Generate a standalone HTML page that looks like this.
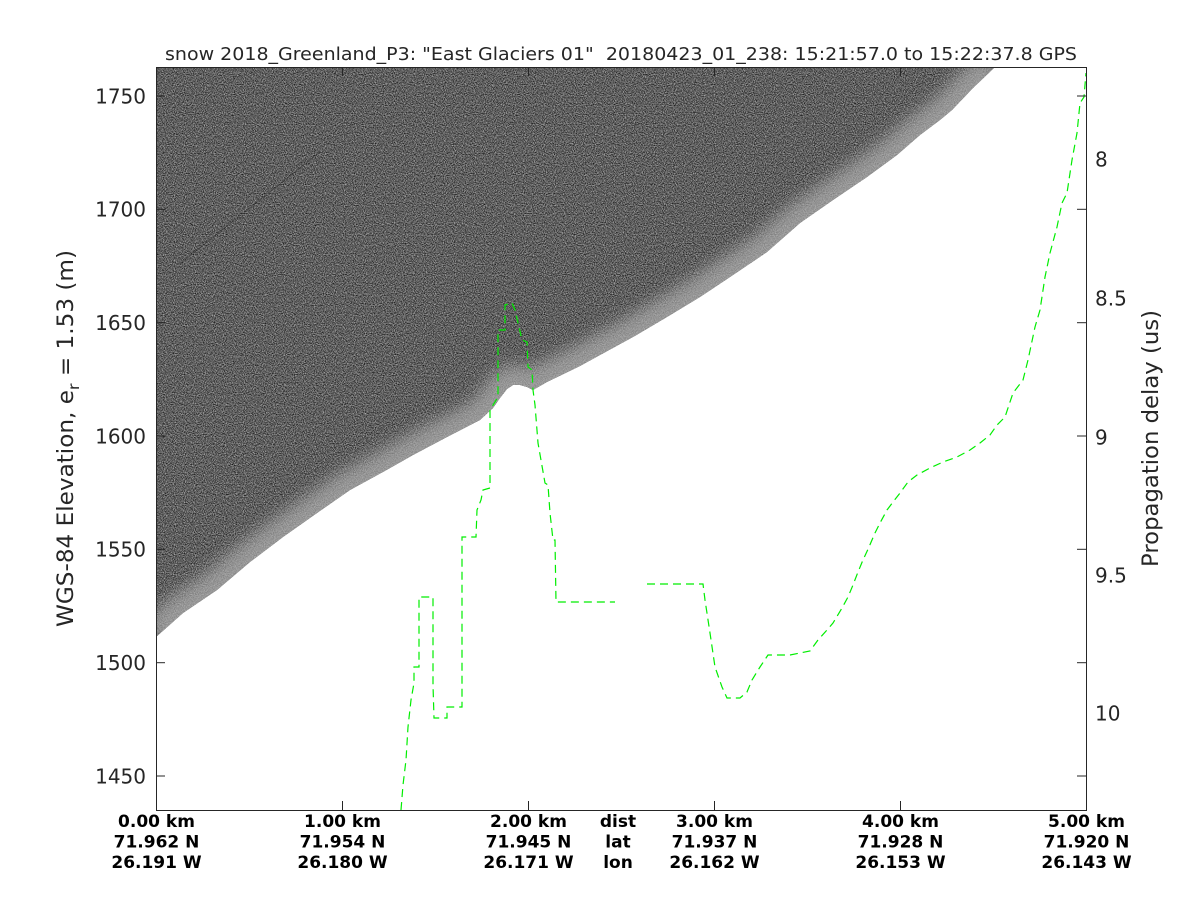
<!DOCTYPE html>
<html>
<head>
<meta charset="utf-8">
<style>
html,body{margin:0;padding:0;background:#fff;}
svg{display:block;}
text{font-family:"DejaVu Sans","Liberation Sans",sans-serif;fill:#262626;}
.b{font-weight:bold;font-size:17px;fill:#000;}
</style>
</head>
<body>
<svg width="1200" height="900" viewBox="0 0 1200 900" xmlns="http://www.w3.org/2000/svg">
<defs>
<clipPath id="dark">
<path d="M156,67 L995,67 L973,88 L952,110 L940,120 L920,135 L897,155 L867,177 L833,200 L800,223 L767,252 L733,275 L700,297 L667,317 L633,337 L600,355 L580,366 L547,382 L533,390 L527,387 L520,385 L513,385 L507,389 L500,398 L493,408 L480,420 L447,437 L413,455 L383,472 L350,490 L317,513 L283,537 L250,562 L217,590 L183,613 L156,637 Z"/>
</clipPath>
<filter id="noise" x="0" y="0" width="100%" height="100%" color-interpolation-filters="sRGB">
<feTurbulence type="fractalNoise" baseFrequency="0.9" numOctaves="2" seed="7"/>
<feColorMatrix type="matrix" values="1.2 0 0 0 -0.22  1.2 0 0 0 -0.22  1.2 0 0 0 -0.22  0 0 0 0 1"/>
</filter>
<filter id="blur" x="-10%" y="-10%" width="120%" height="120%" color-interpolation-filters="sRGB">
<feGaussianBlur stdDeviation="8"/>
</filter>
</defs>

<!-- radar image -->
<g clip-path="url(#dark)">
<rect x="156" y="67" width="840" height="571" fill="#5a5a5a"/>
<rect x="156" y="67" width="840" height="571" filter="url(#noise)" opacity="0.85"/>
<path d="M156,637 L183,613 L217,590 L250,562 L283,537 L317,513 L350,490 L383,472 L413,455 L447,437 L480,420 L493,408 L500,398 L507,389 L513,385 L520,385 L527,387 L533,390 L547,382 L580,366 L600,355 L633,337 L667,317 L700,297 L733,275 L767,252 L800,223 L833,200 L867,177 L897,155 L920,135 L940,120 L952,110 L973,88 L995,67" fill="none" stroke="#b0b0b0" stroke-width="40" opacity="0.7" filter="url(#blur)"/>
<line x1="178" y1="265" x2="320" y2="152" stroke="#222" stroke-width="1.2" opacity="0.35"/>
</g>

<!-- green delay line -->
<polyline fill="none" stroke="#00ee00" stroke-width="1.2" stroke-dasharray="8,5" points="401,810 403,785 406,760 408,727 411,700 414,683 414,667 419,667 419,597 433,597 433,685 434,718 447,718 447,707 462,707 462,537 476,537 477,510 481,500 483,490 490,488 490,410 498,397 498,330 505,330 505,305 512,303 515,310 522,340 527,342 528,367 532,370 533,390 535,405 538,443 545,483 548,485 550,513 553,540 555,540 556,602 615,602"/>
<polyline fill="none" stroke="#00ee00" stroke-width="1.2" stroke-dasharray="8,5" points="647,584 703,584 705,600 710,633 715,667 722,687 727,698 740,698 747,692 752,680 760,667 768,655 790,655 810,651 818,640 827,630 833,623 842,608 848,597 853,585 858,572 863,560 869,547 875,533 880,523 887,510 893,502 900,493 908,482 917,475 930,468 943,462 957,457 970,450 980,443 990,435 997,425 1005,417 1013,393 1023,380 1028,360 1035,327 1040,310 1045,277 1050,253 1057,227 1062,203 1067,193 1072,160 1077,133 1080,103 1084,97 1086,73"/>

<!-- axes box -->
<rect x="156.5" y="67.5" width="930" height="743" fill="none" stroke="#262626" stroke-width="1"/>

<!-- ticks -->
<g stroke="#262626" stroke-width="1">
<line x1="156" y1="96" x2="165" y2="96"/>
<line x1="156" y1="209.3" x2="165" y2="209.3"/>
<line x1="156" y1="322.7" x2="165" y2="322.7"/>
<line x1="156" y1="436" x2="165" y2="436"/>
<line x1="156" y1="549.3" x2="165" y2="549.3"/>
<line x1="156" y1="662.7" x2="165" y2="662.7"/>
<line x1="156" y1="776" x2="165" y2="776"/>
<line x1="1086" y1="96" x2="1077" y2="96"/>
<line x1="1086" y1="209.3" x2="1077" y2="209.3"/>
<line x1="1086" y1="322.7" x2="1077" y2="322.7"/>
<line x1="1086" y1="436" x2="1077" y2="436"/>
<line x1="1086" y1="549.3" x2="1077" y2="549.3"/>
<line x1="1086" y1="662.7" x2="1077" y2="662.7"/>
<line x1="1086" y1="776" x2="1077" y2="776"/>
<line x1="342.5" y1="810" x2="342.5" y2="801"/>
<line x1="528.5" y1="810" x2="528.5" y2="801"/>
<line x1="714.5" y1="810" x2="714.5" y2="801"/>
<line x1="900.5" y1="810" x2="900.5" y2="801"/>
<line x1="342.5" y1="67" x2="342.5" y2="76"/>
<line x1="528.5" y1="67" x2="528.5" y2="76"/>
<line x1="714.5" y1="67" x2="714.5" y2="76"/>
<line x1="900.5" y1="67" x2="900.5" y2="76"/>
</g>

<!-- title -->
<text x="621" y="60" font-size="18" text-anchor="middle" textLength="912" lengthAdjust="spacingAndGlyphs" fill="#000" xml:space="preserve">snow 2018_Greenland_P3: "East Glaciers 01"  20180423_01_238: 15:21:57.0 to 15:22:37.8 GPS</text>

<!-- left tick labels -->
<g font-size="20" text-anchor="end">
<text x="146" y="103.3">1750</text>
<text x="146" y="216.6">1700</text>
<text x="146" y="330">1650</text>
<text x="146" y="443.3">1600</text>
<text x="146" y="556.6">1550</text>
<text x="146" y="670">1500</text>
<text x="146" y="783.3">1450</text>
</g>

<!-- right tick labels -->
<g font-size="20">
<text x="1095" y="166.3">8</text>
<text x="1095" y="305.3">8.5</text>
<text x="1095" y="444.3">9</text>
<text x="1095" y="582.3">9.5</text>
<text x="1095" y="720.3">10</text>
</g>

<!-- y labels -->
<text transform="translate(73,627) rotate(-90)" font-size="22" textLength="377" lengthAdjust="spacingAndGlyphs">WGS-84 Elevation, e<tspan font-size="15" dy="6">r</tspan><tspan dy="-6"> = 1.53 (m)</tspan></text>
<text transform="translate(1158,567) rotate(-90)" font-size="22" textLength="257" lengthAdjust="spacingAndGlyphs">Propagation delay (us)</text>

<!-- bottom labels -->
<g class="b" text-anchor="middle">
<text class="b" x="156.5" y="827">0.00 km</text>
<text class="b" x="156.5" y="847.5">71.962 N</text>
<text class="b" x="156.5" y="868">26.191 W</text>
<text class="b" x="342.5" y="827">1.00 km</text>
<text class="b" x="342.5" y="847.5">71.954 N</text>
<text class="b" x="342.5" y="868">26.180 W</text>
<text class="b" x="528.5" y="827">2.00 km</text>
<text class="b" x="528.5" y="847.5">71.945 N</text>
<text class="b" x="528.5" y="868">26.171 W</text>
<text class="b" x="618" y="827">dist</text>
<text class="b" x="618" y="847.5">lat</text>
<text class="b" x="618" y="868">lon</text>
<text class="b" x="714.5" y="827">3.00 km</text>
<text class="b" x="714.5" y="847.5">71.937 N</text>
<text class="b" x="714.5" y="868">26.162 W</text>
<text class="b" x="900.5" y="827">4.00 km</text>
<text class="b" x="900.5" y="847.5">71.928 N</text>
<text class="b" x="900.5" y="868">26.153 W</text>
<text class="b" x="1086.5" y="827">5.00 km</text>
<text class="b" x="1086.5" y="847.5">71.920 N</text>
<text class="b" x="1086.5" y="868">26.143 W</text>
</g>
</svg>
</body>
</html>
